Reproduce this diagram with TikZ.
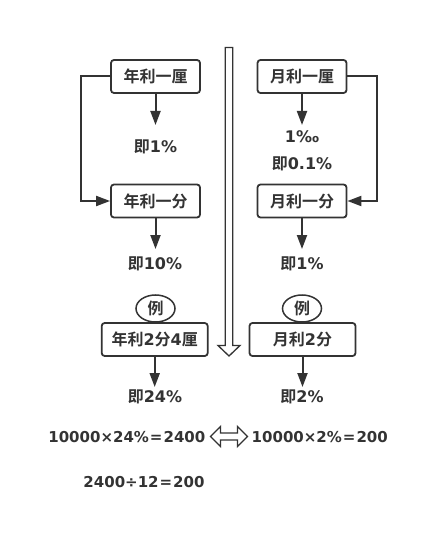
\documentclass[tikz,border=0pt]{standalone}
\usepackage{fontspec}
\setmainfont{DejaVu Sans}
\newfontfamily\cjkfont{Noto Sans CJK SC}[BoldFont={Noto Sans CJK SC Bold}]
\newcommand{\CJ}[1]{{\cjkfont\bfseries #1}}
\usetikzlibrary{arrows.meta,shapes.geometric}
\definecolor{ink}{HTML}{333333}
\begin{document}
\begin{tikzpicture}[x=1pt,y=-1pt,
  every node/.style={font=\bfseries\fontsize{16}{19}\selectfont,text=ink,inner sep=0pt},
  box/.style={draw=ink,line width=1.8pt,rounded corners=3pt,minimum width=89pt,minimum height=33pt},
  lbl/.style={},
  eq/.style={font=\bfseries\fontsize{15}{18}\selectfont},
  oval/.style={draw=ink,line width=1.5pt,ellipse,minimum width=39pt,minimum height=27pt},
  conn/.style={draw=ink,line width=2pt,-{Triangle[length=14pt,width=10pt]}},
  hollow/.style={draw=ink,line width=1.3pt,fill=white,line join=miter}]
\useasboundingbox (0,0) rectangle (422,534);
% left column
\node[box] (a1) at (155.5,76.5) {\CJ{年利一厘}};
\node[lbl] (a2) at (155.5,147) {\CJ{即}1\%};
\node[box] (a3) at (155.5,201) {\CJ{年利一分}};
\node[lbl] (a4) at (155,264) {\CJ{即}10\%};
\node[oval] (a5) at (155.5,308.5) {\CJ{例}};
\node[box,minimum width=106pt] (a6) at (154.7,339.5) {\CJ{年利}2\CJ{分}4\CJ{厘}};
\node[lbl] (a7) at (155,397) {\CJ{即}24\%};
% right column
\node[box] (b1) at (302,76.5) {\CJ{月利一厘}};
\node[lbl] (b2) at (302,137) {1‰};
\node[lbl] (b2b) at (302,164) {\CJ{即}0.1\%};
\node[box] (b3) at (302,201) {\CJ{月利一分}};
\node[lbl] (b4) at (302,264) {\CJ{即}1\%};
\node[oval] (b5) at (302,308.5) {\CJ{例}};
\node[box,minimum width=106pt] (b6) at (302.5,339.5) {\CJ{月利}2\CJ{分}};
\node[lbl] (b7) at (302,397) {\CJ{即}2\%};
% equations
\node[eq,anchor=east] (e1) at (205.5,437) {10000×24\%\kern1pt=\kern1pt2400};
\node[eq,anchor=west] (e2) at (251.5,437) {10000×2\%\kern1pt=\kern1pt200};
\node[eq] (e3) at (144,482) {2400÷12\kern1pt=\kern1pt200};
% connectors
\draw[conn] (a1.south) -- (a1.south |- 0,125);
\draw[conn] (a3.south) -- (a3.south |- 0,249);
\draw[conn] (a6.south) -- (a6.south |- 0,387);
\draw[conn] (b1.south) -- (b1.south |- 0,125);
\draw[conn] (b3.south) -- (b3.south |- 0,249);
\draw[conn] (b6.south) -- (b6.south |- 0,387);
\coordinate (la) at (81,76.5);
\coordinate (lb) at (81,201);
\draw[conn] (a1.west) -- (la) -- (lb) -- (a3.west);
\coordinate (ra) at (376.5,76.5);
\coordinate (rb) at (376.5,201);
\draw[conn] (b1.east) -- (ra) -- (rb) -- (b3.east);
% central hollow down arrow
\draw[hollow] (225.3,47.5) -- (232.7,47.5) -- (232.7,345.5) -- (240,345.5) -- (229,356) -- (218,345.5) -- (225.3,345.5) -- cycle;
% hollow double arrow
\draw[hollow] (210.5,436.5) -- (220.5,426.5) -- (220.5,433) -- (237.5,433) -- (237.5,426.5) -- (247.5,436.5) -- (237.5,446.5) -- (237.5,440) -- (220.5,440) -- (220.5,446.5) -- cycle;
\end{tikzpicture}
\end{document}
